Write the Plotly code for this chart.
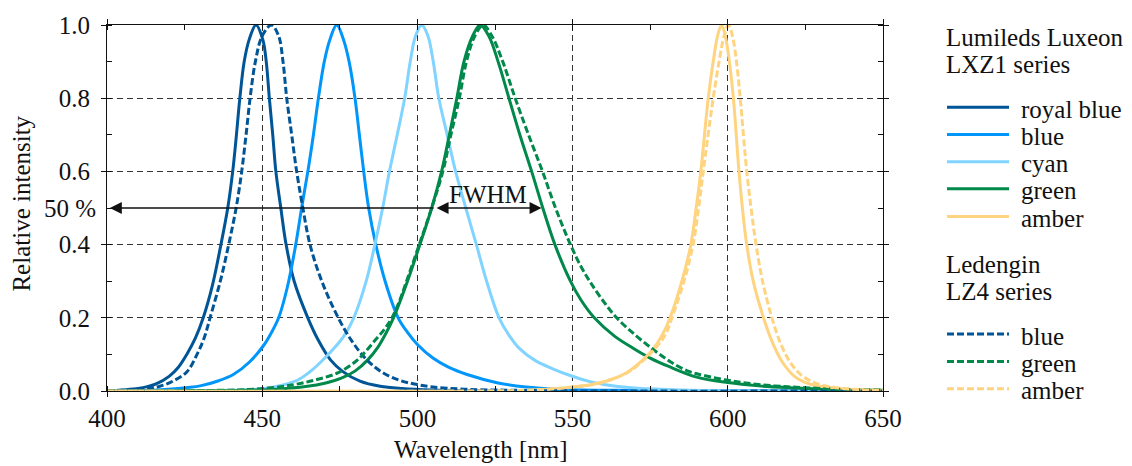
import plotly.graph_objects as go

# ---------------- data ----------------
# Lumileds Luxeon LXZ1 (solid)
rb_wl = [400, 405, 410, 413, 416, 420, 423, 425.7, 428.5, 431, 434, 436.7, 438.9, 440.5, 441.7, 442.8,
         444.2, 445.8, 448, 450.2, 451.3, 452.3, 453.4, 454.4, 456, 457.7, 460.3, 464.7, 468, 472, 476,
         481.5, 488, 495, 505, 520, 540, 650]
rb_i = [0.0, 0.003, 0.007, 0.012, 0.02, 0.04, 0.065, 0.1, 0.145, 0.2, 0.29, 0.4, 0.5, 0.6, 0.7, 0.8,
        0.9, 0.96, 1.0, 0.96, 0.9, 0.8, 0.7, 0.6, 0.5, 0.4, 0.3, 0.2, 0.14, 0.085, 0.053,
        0.027, 0.013, 0.007, 0.003, 0.001, 0.0, 0.0]

b_wl = [400, 415, 420, 430, 436, 440.7, 446, 450.5, 453, 455.3, 458, 460.6, 462.7, 464.9, 466.5, 468.1,
        470, 471.8, 474, 476.2, 478, 479.9, 481.3, 482.7, 484.3, 486.6, 489.6, 493.8, 497, 500, 505, 510,
        516, 526, 535, 545, 560, 650]
b_i = [0.0, 0.002, 0.005, 0.014, 0.028, 0.045, 0.08, 0.125, 0.16, 0.2, 0.28, 0.39, 0.5, 0.61, 0.7, 0.8,
       0.9, 0.96, 1.0, 0.96, 0.9, 0.8, 0.7, 0.6, 0.5, 0.4, 0.3, 0.2, 0.158, 0.127, 0.09, 0.065,
       0.045, 0.022, 0.011, 0.005, 0.002, 0.0]

c_wl = [400, 440, 450, 456, 461.5, 465, 469, 473.5, 476.3, 479.5, 483.5, 486.3, 488.8, 491, 493.5, 495.9,
        497.7, 499.4, 501.4, 503.4, 505.1, 506.9, 509.6, 512.3, 515.6, 519, 522.3, 526.3, 529.7, 533,
        538, 543.8, 549, 555, 560, 570, 585, 600, 650]
c_i = [0.0, 0.002, 0.006, 0.015, 0.03, 0.05, 0.08, 0.12, 0.15, 0.2, 0.3, 0.4, 0.5, 0.6, 0.7, 0.8,
       0.9, 0.97, 1.0, 0.97, 0.9, 0.8, 0.7, 0.6, 0.5, 0.4, 0.3, 0.2, 0.15, 0.115,
       0.083, 0.06, 0.043, 0.027, 0.018, 0.008, 0.003, 0.001, 0.0]

g_wl = [400, 445, 455, 464, 470.5, 475.5, 480, 484, 487.3, 490, 492.3, 496.8, 500.8, 504.6, 507.8, 510.3,
        512.7, 515, 517.8, 520.2, 523, 526, 529.5, 533, 536.8, 540.4, 544.3, 549.3, 552.6, 557, 563.5,
        569.5, 575, 581, 590, 600, 610, 620, 635, 650]
g_i = [0.0, 0.002, 0.005, 0.012, 0.022, 0.035, 0.055, 0.085, 0.12, 0.16, 0.2, 0.3, 0.4, 0.5, 0.6, 0.7,
       0.8, 0.9, 0.97, 1.0, 0.97, 0.9, 0.8, 0.7, 0.6, 0.5, 0.4, 0.3, 0.25, 0.2, 0.15,
       0.117, 0.09, 0.067, 0.038, 0.023, 0.014, 0.009, 0.004, 0.002]

a_wl = [400, 530, 540, 548, 555.6, 562, 567.4, 572, 576, 579, 581.4, 585.2, 588.1, 589.8, 591.3, 593.7,
        595.3, 596.7, 598, 599.2, 600.5, 601.8, 603.6, 604.7, 606.1, 608.2, 611.5, 614.5, 617.5, 621.5,
        626, 632, 640, 650]
a_i = [0.0, 0.001, 0.004, 0.009, 0.017, 0.03, 0.05, 0.08, 0.115, 0.155, 0.2, 0.3, 0.4, 0.5, 0.6, 0.8,
       0.9, 0.97, 1.0, 0.97, 0.9, 0.8, 0.6, 0.5, 0.4, 0.3, 0.2, 0.13, 0.08, 0.04,
       0.02, 0.01, 0.004, 0.001]

# Ledengin LZ4 (dashed)
lb_wl = [400, 405, 410, 414, 417, 421, 425.7, 429, 431.3, 433.2, 436.5, 439.2, 441.6, 443.4, 444.8,
         446.1, 447.8, 450, 453, 455.3, 456.7, 457.9, 459.5, 461.1, 463.1, 465.4, 469.2, 474.5, 479,
         483.7, 488.5, 494, 499, 505, 515, 530, 560, 650]
lb_i = [0.0, 0.002, 0.004, 0.008, 0.013, 0.026, 0.052, 0.1, 0.145, 0.2, 0.3, 0.4, 0.5, 0.6, 0.7,
        0.8, 0.9, 0.97, 1.0, 0.97, 0.9, 0.8, 0.7, 0.6, 0.5, 0.4, 0.3, 0.2, 0.135,
        0.085, 0.052, 0.03, 0.019, 0.011, 0.005, 0.002, 0.0, 0.0]

lg_wl = [400, 442, 452, 460, 467, 474.5, 480, 483, 486.5, 489.5, 491.8, 494.2, 496.5, 500.6, 504.6,
         508.2, 510.8, 513.5, 515.8, 518.5, 521.2, 524, 527.5, 531.5, 535.8, 540.3, 544.5, 549.3, 552.7,
         555.5, 559.5, 564.2, 570.6, 576.5, 581.5, 587, 592, 603, 615, 625, 640, 650]
lg_i = [0.0, 0.003, 0.008, 0.017, 0.03, 0.05, 0.08, 0.105, 0.14, 0.17, 0.2, 0.245, 0.3, 0.4, 0.5,
        0.6, 0.7, 0.8, 0.9, 0.97, 1.0, 0.97, 0.9, 0.8, 0.7, 0.6, 0.5, 0.4, 0.34,
        0.3, 0.25, 0.2, 0.15, 0.11, 0.08, 0.055, 0.043, 0.025, 0.014, 0.009, 0.004, 0.003]

la_wl = [400, 530, 540, 548, 555.6, 562, 567.6, 572.3, 576.5, 580, 582, 585.9, 588.8, 590.6, 592.1,
         595.3, 597.2, 598.8, 600.2, 601.5, 602.8, 604, 606.1, 607.5, 609.1, 611.2, 614.2, 617, 620,
         623.5, 628, 634, 642, 650]
la_i = [0.0, 0.001, 0.004, 0.009, 0.016, 0.03, 0.05, 0.08, 0.115, 0.155, 0.2, 0.3, 0.4, 0.5, 0.6,
        0.8, 0.9, 0.97, 1.0, 0.97, 0.9, 0.8, 0.6, 0.5, 0.4, 0.3, 0.2, 0.13, 0.08,
        0.045, 0.022, 0.01, 0.004, 0.002]

solid_names = ["royal blue", "blue", "cyan", "green", "amber"]
dashed_names = ["blue", "green", "amber"]
x_ticks = [400, 450, 500, 550, 600, 650]
y_ticks = [0.0, 0.2, 0.4, 0.6, 0.8, 1.0]

# ---------------- styling ----------------
C_RB = "#005596"
C_B = "#0096fa"
C_C = "#80d4ff"
C_G = "#00894b"
C_A = "#ffd480"
FONT = "Liberation Serif, Times New Roman, serif"
FS = 25
DASH = "7px,3px"
W, H = 1132, 466
L, R, T, B = 107, 249, 20, 75
PW, PH = W - L - R, H - T - B


def px2paper(px, py):
    return (px - L) / PW, (H - B - py) / PH


fig = go.Figure()

solid_data = [(rb_wl, rb_i, C_RB), (b_wl, b_i, C_B), (c_wl, c_i, C_C), (g_wl, g_i, C_G), (a_wl, a_i, C_A)]
for (xs, ys, col), nm in zip(solid_data, solid_names):
    fig.add_trace(go.Scatter(x=xs, y=ys, mode="lines", name=nm,
                             line=dict(color=col, width=3, shape="spline", smoothing=1.0),
                             showlegend=False))

dashed_data = [(lb_wl, lb_i, C_RB), (lg_wl, lg_i, C_G), (la_wl, la_i, C_A)]
for (xs, ys, col), nm in zip(dashed_data, dashed_names):
    fig.add_trace(go.Scatter(x=xs, y=ys, mode="lines", name=nm,
                             line=dict(color=col, width=3, dash=DASH, shape="spline", smoothing=1.0),
                             showlegend=False))

axis_common = dict(
    showline=True, linecolor="#111", linewidth=1, mirror="ticks",
    showgrid=True, gridcolor="#333", gridwidth=1, griddash="6px,4px",
    zeroline=False, ticks="outside", ticklen=5, tickcolor="#111",
    tickfont=dict(family=FONT, size=FS, color="#111"),
)

fig.update_xaxes(range=[400, 650], tickvals=x_ticks, ticktext=[str(v) for v in x_ticks],
                 minor=dict(dtick=25, tick0=400, ticks="inside", ticklen=5, tickcolor="#111", showgrid=False),
                 ticklabelstandoff=0, **axis_common)
fig.update_yaxes(range=[0, 1.0], tickvals=y_ticks, ticktext=[f"{v:.1f}" for v in y_ticks],
                 minor=dict(dtick=0.1, tick0=0, ticks="inside", ticklen=5, tickcolor="#111", showgrid=False),
                 ticklabelstandoff=6, **axis_common)

annotations = []
shapes = []

# axis titles
xt, yt = px2paper(481, 450)
annotations.append(dict(x=xt, y=yt, xref="paper", yref="paper", text="Wavelength [nm]", showarrow=False,
                        font=dict(family=FONT, size=FS, color="#111"), xanchor="center", yanchor="middle"))
xt, yt = px2paper(22, 201)
annotations.append(dict(x=xt, y=yt, xref="paper", yref="paper", text="Relative intensity", showarrow=False,
                        textangle=-90, font=dict(family=FONT, size=FS, color="#111"),
                        xanchor="center", yanchor="middle"))

# 50 % label and arrows
xt, _ = px2paper(98, 0)
annotations.append(dict(x=xt, y=0.5, xref="paper", yref="y", text="50 %", showarrow=False,
                        font=dict(family=FONT, size=FS, color="#111"), xanchor="right", yanchor="middle"))
annotations.append(dict(x=400.9, y=0.5, ax=505.7, ay=0.5, xref="x", yref="y", axref="x", ayref="y",
                        text="", showarrow=True, arrowhead=2, arrowsize=1.6, arrowwidth=1.5,
                        arrowcolor="#111"))
annotations.append(dict(x=540.0, y=0.5, ax=505.7, ay=0.5, xref="x", yref="y", axref="x", ayref="y",
                        text="", showarrow=True, arrowhead=2, arrowsize=1.6, arrowwidth=1.5,
                        arrowside="end+start", arrowcolor="#111"))
annotations.append(dict(x=522.9, y=0.537, xref="x", yref="y", text="FWHM", showarrow=False,
                        font=dict(family=FONT, size=FS, color="#111"), xanchor="center", yanchor="middle"))


# custom legend
def legend_text(txt, px, py):
    x, y = px2paper(px, py)
    annotations.append(dict(x=x, y=y, xref="paper", yref="paper", text=txt, showarrow=False,
                            font=dict(family=FONT, size=FS, color="#111"),
                            xanchor="left", yanchor="middle"))


def legend_line(col, py, dash=None):
    x0, y = px2paper(947, py)
    x1, _ = px2paper(1009, py)
    line = dict(color=col, width=3)
    if dash:
        line["dash"] = dash
    shapes.append(dict(type="line", xref="paper", yref="paper", x0=x0, x1=x1, y0=y, y1=y, line=line))


legend_text("Lumileds Luxeon", 944, 33)
legend_text("LXZ1 series", 944, 60)
solid_cols = [C_RB, C_B, C_C, C_G, C_A]
solid_rows = [103.3, 131, 158.7, 186, 214]
for nm, col, py in zip(solid_names, solid_cols, solid_rows):
    legend_line(col, py)
    legend_text(nm, 1019, py + 2)

legend_text("Ledengin", 944, 263)
legend_text("LZ4 series", 944, 290)
dashed_cols = [C_RB, C_G, C_A]
dashed_rows = [333.3, 361, 388.7]
for nm, col, py in zip(dashed_names, dashed_cols, dashed_rows):
    legend_line(col, py, dash="7px,3px")
    legend_text(nm, 1019, py + 2)

fig.update_layout(
    width=W, height=H, autosize=False,
    margin=dict(l=L, r=R, t=T, b=B, pad=0),
    paper_bgcolor="white", plot_bgcolor="white",
    showlegend=False,
    annotations=annotations, shapes=shapes,
    font=dict(family=FONT, size=FS, color="#111"),
)

fig.write_html("out.html")
